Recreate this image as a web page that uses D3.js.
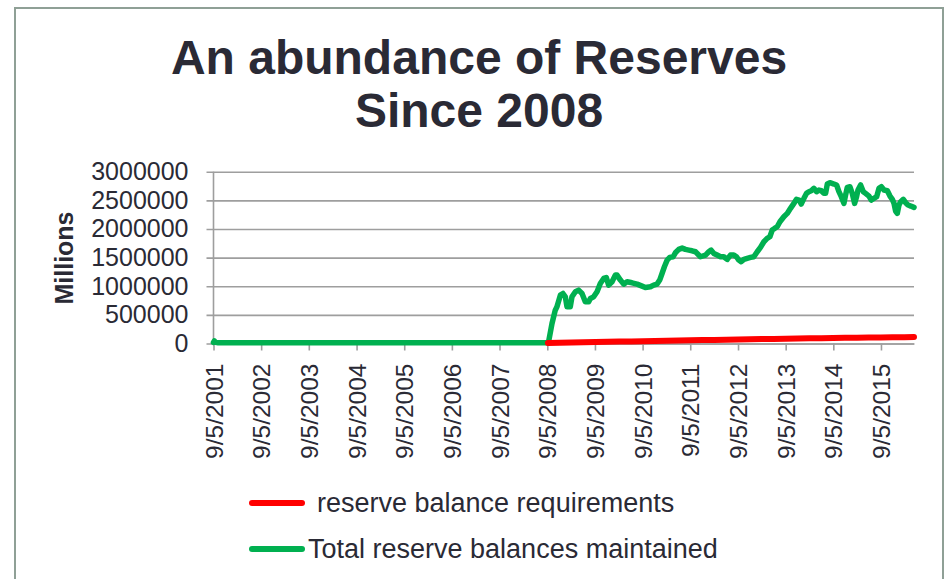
<!DOCTYPE html>
<html>
<head>
<meta charset="utf-8">
<script src="https://cdn.jsdelivr.net/npm/d3@7"></script>
<style>
  html, body { margin: 0; padding: 0; background: #ffffff; }
  svg { display: block; font-family: "Liberation Sans", Arial, sans-serif; }
</style>
</head>
<body>
<svg id="chart" width="946" height="579"></svg>
<script>
// Weekly reserve balances (millions of dollars), sampled at turning points
const totalDates = [
  "2001-09-05","2001-09-12","2001-09-19","2001-10-10","2002-03-06","2002-09-04",
  "2003-03-05","2003-09-03","2004-03-03","2004-09-01","2005-03-02","2005-09-07",
  "2006-03-01","2006-09-06","2007-03-07","2007-09-05","2008-03-05","2008-09-10",
  "2008-09-15","2008-10-11","2008-11-05","2008-11-18","2008-12-14","2009-01-03",
  "2009-01-21","2009-02-03","2009-02-28","2009-03-13","2009-04-08","2009-05-03",
  "2009-05-29","2009-06-23","2009-07-19","2009-08-01","2009-08-26","2009-09-21",
  "2009-10-16","2009-11-11","2009-12-01","2009-12-19","2010-01-14","2010-02-08",
  "2010-02-21","2010-03-19","2010-04-13","2010-05-09","2010-06-16","2010-07-25",
  "2010-09-01","2010-09-26","2010-11-04","2010-11-29","2010-12-25","2011-01-14",
  "2011-02-01","2011-02-19","2011-03-12","2011-04-01","2011-04-27","2011-05-14",
  "2011-06-09","2011-07-05","2011-07-30","2011-08-25","2011-09-19","2011-10-15",
  "2011-11-22","2011-12-31","2012-01-25","2012-02-12","2012-03-03","2012-03-29",
  "2012-04-24","2012-05-19","2012-06-14","2012-07-09","2012-08-04","2012-08-24",
  "2012-09-11","2012-09-29","2012-10-20","2012-11-14","2012-12-10","2013-01-04",
  "2013-01-30","2013-02-24","2013-03-22","2013-04-16","2013-05-07","2013-05-25",
  "2013-06-12","2013-07-02","2013-07-23","2013-08-22","2013-09-17","2013-10-12",
  "2013-11-07","2013-11-27","2013-12-18","2014-01-02","2014-01-23","2014-02-12",
  "2014-03-02","2014-03-20","2014-04-09","2014-04-30","2014-05-18","2014-06-05",
  "2014-06-25","2014-07-08","2014-07-21","2014-08-10","2014-09-10","2014-09-30",
  "2014-10-18","2014-11-05","2014-11-25","2014-12-08","2014-12-21","2015-01-10",
  "2015-01-28","2015-02-15","2015-03-02","2015-03-13","2015-04-02","2015-04-23",
  "2015-05-10","2015-06-05","2015-06-23","2015-07-13","2015-08-03","2015-08-21",
  "2015-09-08","2015-09-28","2015-10-24","2015-11-13","2015-12-01","2015-12-14",
  "2015-12-26","2016-01-08","2016-01-21","2016-02-03","2016-02-23","2016-03-12",
  "2016-03-30","2016-04-20","2016-05-15"
];
const totalBalances = [
  18000, 45000, 20000, 14000, 12000, 13000,
  12000, 14000, 13000, 15000, 13000, 12000,
  11000, 12000, 11000, 13000, 12000, 15000,
  30000, 349000, 582000, 640000, 844000, 874000,
  815000, 640000, 640000, 815000, 903000, 932000,
  874000, 728000, 728000, 786000, 815000, 903000,
  1048000, 1136000, 1153000, 1019000, 1078000, 1194000,
  1194000, 1107000, 1037000, 1078000, 1060000, 1037000,
  1002000, 978000, 990000, 1019000, 1037000, 1107000,
  1223000, 1340000, 1456000, 1503000, 1515000, 1584000,
  1643000, 1666000, 1643000, 1631000, 1619000, 1602000,
  1515000, 1544000, 1602000, 1631000, 1573000, 1544000,
  1515000, 1515000, 1468000, 1544000, 1544000, 1515000,
  1456000, 1427000, 1468000, 1486000, 1503000, 1515000,
  1602000, 1678000, 1777000, 1835000, 1864000, 1981000,
  2010000, 2039000, 2126000, 2214000, 2272000, 2360000,
  2447000, 2517000, 2505000, 2435000, 2535000, 2622000,
  2651000, 2668000, 2709000, 2651000, 2680000, 2668000,
  2622000, 2622000, 2785000, 2808000, 2785000, 2768000,
  2651000, 2564000, 2447000, 2593000, 2727000, 2738000,
  2622000, 2447000, 2564000, 2680000, 2768000, 2651000,
  2622000, 2575000, 2505000, 2535000, 2564000, 2709000,
  2738000, 2680000, 2668000, 2575000, 2517000, 2447000,
  2313000, 2272000, 2418000, 2476000, 2517000, 2459000,
  2418000, 2400000, 2377000
];

const reqDates = [
  "2001-09-05","2002-09-04","2003-09-03","2004-09-01","2005-09-07","2006-09-06",
  "2007-09-05","2008-09-10","2008-12-10","2009-03-11","2009-06-10","2009-09-09",
  "2009-12-09","2010-03-10","2010-06-09","2010-09-08","2010-12-08","2011-03-09",
  "2011-06-08","2011-09-07","2011-12-07","2012-03-07","2012-06-06","2012-09-05",
  "2012-12-05","2013-03-06","2013-06-05","2013-09-04","2013-12-04","2014-03-05",
  "2014-06-04","2014-09-03","2014-12-03","2015-03-04","2015-06-03","2015-09-02",
  "2015-12-02","2016-03-02","2016-05-15"
];
const reqBalances = [
  9000, 9500, 10000, 10500, 10000, 9500,
  9000, 9000, 14000, 18000, 22000, 26000,
  30000, 34000, 37000, 40000, 44000, 48000,
  51000, 55000, 59000, 63000, 66000, 70000,
  74000, 77000, 80000, 84000, 88000, 91000,
  93000, 96000, 99000, 101000, 103000, 105000,
  108000, 110000, 112000
];

const yTicks = [0, 500000, 1000000, 1500000, 2000000, 2500000, 3000000];
const xTickLabels = ["9/5/2001","9/5/2002","9/5/2003","9/5/2004","9/5/2005",
  "9/5/2006","9/5/2007","9/5/2008","9/5/2009","9/5/2010","9/5/2011",
  "9/5/2012","9/5/2013","9/5/2014","9/5/2015"];

const seriesNames = ["reserve balance requirements", "Total reserve balances maintained"];
const seriesColors = ["#ff0000", "#00b050"];

const parse = d3.timeParse("%Y-%m-%d");
const parseLabel = d3.timeParse("%-m/%-d/%Y");

const svg = d3.select("#chart");
const textColor = "#2a2a35";
const gridColor = "#9e9e9e";

// outer chart frame
svg.append("rect")
  .attr("x", 15).attr("y", 8)
  .attr("width", 928).attr("height", 590)
  .attr("fill", "#ffffff")
  .attr("stroke", "#8fa096").attr("stroke-width", 2);

// title
const title = svg.append("text")
  .attr("text-anchor", "middle")
  .attr("font-weight", "bold")
  .attr("font-size", 48)
  .attr("fill", textColor);
title.append("tspan").attr("x", 479).attr("y", 74).text("An abundance of Reserves");
title.append("tspan").attr("x", 479).attr("y", 127).text("Since 2008");

const x = d3.scaleTime()
  .domain([parse("2001-09-05"), parse("2016-05-15")])
  .range([213.5, 914]);
const y = d3.scaleLinear()
  .domain([0, 3000000])
  .range([343.5, 171.7]);

// horizontal gridlines with outward ticks
const yAxis = svg.append("g")
  .attr("transform", `translate(${x.range()[0]},0)`)
  .call(d3.axisLeft(y)
    .tickValues(yTicks)
    .tickFormat(d3.format("d"))
    .tickSize(-(x.range()[1] - x.range()[0]))
    .tickSizeOuter(0)
    .tickPadding(25));
yAxis.select(".domain").remove();
yAxis.selectAll(".tick line")
  .attr("x1", -7)
  .attr("stroke", gridColor).attr("stroke-width", 1.6);
yAxis.selectAll(".tick text")
  .attr("font-size", 25)
  .attr("fill", textColor)
  .attr("font-family", "Liberation Sans, Arial, sans-serif");

// vertical axis line
svg.append("line")
  .attr("x1", x.range()[0]).attr("x2", x.range()[0])
  .attr("y1", y(3000000)).attr("y2", y(0))
  .attr("stroke", gridColor).attr("stroke-width", 1.6);

// x axis with rotated date labels
const xAxis = svg.append("g")
  .attr("transform", `translate(0,${y(0)})`)
  .call(d3.axisBottom(x)
    .tickValues(xTickLabels.map(parseLabel))
    .tickFormat((d, i) => xTickLabels[i])
    .tickSize(7).tickSizeOuter(0));
xAxis.select(".domain").attr("stroke", gridColor).attr("stroke-width", 1.6);
xAxis.selectAll(".tick line").attr("stroke", gridColor).attr("stroke-width", 1.6);
xAxis.selectAll(".tick text")
  .attr("font-size", 24.5)
  .attr("fill", textColor)
  .attr("font-family", "Liberation Sans, Arial, sans-serif")
  .attr("text-anchor", "end")
  .attr("transform", "translate(0,20) rotate(-90)")
  .attr("x", 0).attr("y", 0)
  .attr("dy", "0.35em");

// y axis title
svg.append("text")
  .attr("transform", "translate(64,258) rotate(-90)")
  .attr("text-anchor", "middle")
  .attr("dy", "0.35em")
  .attr("font-weight", "bold")
  .attr("font-size", 25)
  .attr("fill", textColor)
  .text("Millions");

// series lines
const line = d3.line()
  .x(d => x(d[0]))
  .y(d => y(d[1]))
  .curve(d3.curveLinear);

const reqSeries = reqDates.map((d, i) => [parse(d), reqBalances[i]]);
const totalSeries = totalDates.map((d, i) => [parse(d), totalBalances[i]]);

svg.append("path")
  .datum(totalSeries)
  .attr("d", line)
  .attr("fill", "none")
  .attr("stroke", seriesColors[1]).attr("stroke-width", 5.5)
  .attr("stroke-linejoin", "round").attr("stroke-linecap", "round");

// requirements from 2008 on sit on top along the bottom of the plot
svg.append("path")
  .datum(reqSeries.filter(d => d[0] >= parse("2008-09-10")))
  .attr("d", line)
  .attr("fill", "none")
  .attr("stroke", seriesColors[0]).attr("stroke-width", 6)
  .attr("stroke-linejoin", "round").attr("stroke-linecap", "round");

// legend
const legendRows = [
  { y: 503, textX: 317 },
  { y: 549, textX: 308 }
];
legendRows.forEach((r, i) => {
  svg.append("line")
    .attr("x1", 252).attr("x2", 302)
    .attr("y1", r.y).attr("y2", r.y)
    .attr("stroke", seriesColors[i]).attr("stroke-width", 6)
    .attr("stroke-linecap", "round");
  svg.append("text")
    .attr("x", r.textX).attr("y", r.y)
    .attr("dy", "0.35em")
    .attr("font-size", 27)
    .attr("fill", textColor)
    .text(seriesNames[i]);
});
</script>
</body>
</html>
